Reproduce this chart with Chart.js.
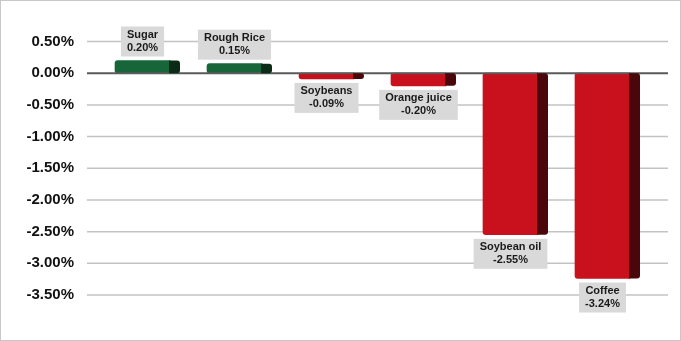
<!DOCTYPE html>
<html>
<head>
<meta charset="utf-8">
<script src="https://cdn.jsdelivr.net/npm/chart.js@4"></script>
<style>
  html, body { margin: 0; padding: 0; background: #fff; }
  #wrap { width: 681px; height: 341px; position: relative; }
</style>
</head>
<body>
<div id="wrap"><canvas id="chart"></canvas></div>
<script>
// datos del gráfico
const categories = ['Sugar', 'Rough Rice', 'Soybeans', 'Orange juice', 'Soybean oil', 'Coffee'];
const changes = [0.20, 0.15, -0.09, -0.20, -2.55, -3.24];
const yTicks = [0.5, 0, -0.5, -1, -1.5, -2, -2.5, -3, -3.5];

const frontColor = v => v >= 0 ? '#17663a' : '#c8111d';
const sideColor = v => v >= 0 ? '#0a2c17' : '#4a070b';

// rejilla horizontal un poco más ancha que el área de barras
const gridPlugin = {
    id: 'grid',
    beforeDatasetsDraw(chart) {
        const y = chart.scales.y;
        const ctx = chart.ctx;
        const x0 = 87, x1 = 668;
        ctx.save();
        yTicks.forEach(t => {
            if (t === 0) return;
            const py = y.getPixelForValue(t);
            ctx.strokeStyle = '#c3c3c3';
            ctx.lineWidth = 1.5;
            ctx.beginPath();
            ctx.moveTo(x0, py);
            ctx.lineTo(x1, py);
            ctx.stroke();
        });
        ctx.restore();
    },
    afterDatasetsDraw(chart) {
        const y = chart.scales.y;
        const ctx = chart.ctx;
        const py = y.getPixelForValue(0);
        ctx.save();
        ctx.strokeStyle = '#5a5a5a';
        ctx.lineWidth = 2;
        ctx.beginPath();
        ctx.moveTo(87, py);
        ctx.lineTo(668, py);
        ctx.stroke();
        ctx.restore();
    }
};

// lado oscuro (efecto 3D) y etiquetas
const sidePlugin = {
    id: 'side3d',
    afterDatasetsDraw(chart) {
        const ctx = chart.ctx;
        const meta = chart.getDatasetMeta(0);
        ctx.save();
        meta.data.forEach((bar, i) => {
            const v = changes[i];
            const right = bar.x + bar.width / 2;
            const top = Math.min(bar.y, bar.base);
            const h = Math.abs(bar.base - bar.y);
            ctx.fillStyle = sideColor(v);
            ctx.beginPath();
            ctx.roundRect(right - 1, top, 11, h, [0, 3, 3, 0]);
            ctx.fill();
        });

        ctx.font = 'bold 11px "Liberation Sans", Arial, sans-serif';
        ctx.textAlign = 'center';
        ctx.textBaseline = 'middle';
        meta.data.forEach((bar, i) => {
            const v = changes[i];
            const lines = [categories[i], v.toFixed(2) + '%'];
            const w = Math.max(...lines.map(l => ctx.measureText(l).width)) + 12;
            const h = 30;
            const bx = bar.x - w / 2;
            const by = v >= 0 ? bar.y - 4 - h : bar.y + 4;
            ctx.fillStyle = '#d9d9d9';
            ctx.fillRect(bx, by, w, h);
            ctx.fillStyle = '#1a1a1a';
            ctx.fillText(lines[0], bar.x, by + 8.5);
            ctx.fillText(lines[1], bar.x, by + 21.5);
        });
        ctx.restore();
    },
    afterDraw(chart) {
        const ctx = chart.ctx;
        ctx.save();
        ctx.strokeStyle = '#c8c8c8';
        ctx.lineWidth = 1;
        ctx.strokeRect(0.5, 0.5, 680, 340);
        ctx.restore();
    }
};

new Chart(document.getElementById('chart'), {
    type: 'bar',
    data: {
        labels: categories,
        datasets: [{
            data: changes,
            backgroundColor: changes.map(frontColor),
            barThickness: 55,
            borderSkipped: false,
            borderRadius: { topLeft: 3, bottomLeft: 3, topRight: 0, bottomRight: 0 }
        }]
    },
    options: {
        responsive: true,
        maintainAspectRatio: false,
        animation: false,
        layout: { padding: { left: 0, right: 32.5, top: 41.5, bottom: 46 } },
        plugins: {
            legend: { display: false },
            tooltip: { enabled: false }
        },
        scales: {
            x: { display: false },
            y: {
                min: -3.5,
                max: 0.5,
                afterFit: s => { s.width = 96.5; },
                afterBuildTicks: s => { s.ticks = yTicks.map(v => ({ value: v })); },
                grid: { display: false, drawTicks: false },
                border: { display: false },
                ticks: {
                    padding: 22.5,
                    color: '#111',
                    font: { family: '"Liberation Sans", Arial, sans-serif', size: 15, weight: 'bold' },
                    callback: v => v.toFixed(2) + '%'
                }
            }
        }
    },
    plugins: [gridPlugin, sidePlugin]
});
</script>
</body>
</html>
